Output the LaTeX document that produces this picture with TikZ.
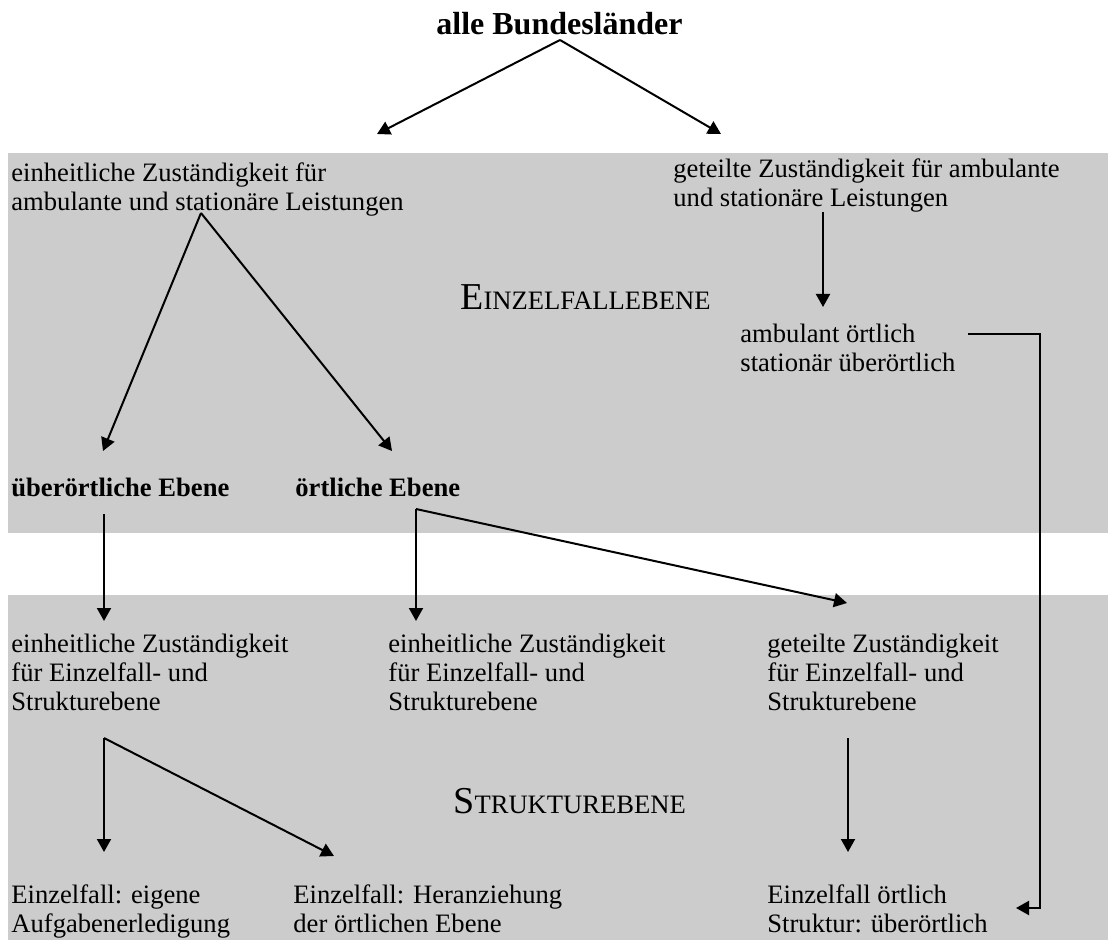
\documentclass[tikz,border=0pt]{standalone}
\usepackage{fontspec}
\setmainfont{Liberation Serif}
\usetikzlibrary{arrows.meta,positioning}
\definecolor{bandgray}{HTML}{CCCCCC}

\begin{document}
\begin{tikzpicture}[
   x=0.5pt, y=-0.5pt,
   band/.style={
     fill=bandgray,
     draw=none,
    },
   txt/.style={
     anchor=base west,
     inner sep=0pt,
     align=left,
     font=\fontsize{13.3}{14.5}\selectfont,
    },
   hd/.style={
     txt,
     font=\fontsize{13.3}{14.5}\selectfont\bfseries,
    },
   sec/.style={
     anchor=base west,
     inner sep=0pt,
     font=\fontsize{19}{21}\selectfont,
    },
   arr/.style={
     line width=1pt,
     -{Triangle[length=6.5pt,width=7pt]},
    },
  ]
\useasboundingbox (0,0) rectangle (1108,940);
\fill[white] (0,0) rectangle (1108,940);
\fill[band] (8,153) rectangle (1108,533);
\fill[band] (8,595) rectangle (1108,940);

% levels (base = last line)
\node[anchor=base, inner sep=0pt, font=\fontsize{16}{18}\selectfont\bfseries] (alle) at (559.5,35) {alle Bundesländer};
\node[txt] (einhA) at (11,211) {einheitliche Zuständigkeit für\\ambulante und stationäre Leistungen};
\node[txt] (geteiltA) at (673,207) {geteilte Zuständigkeit für ambulante\\und stationäre Leistungen};
\node[sec] (einzel) at (460,310) {E{\fontsize{13.3}{14.5}\selectfont INZELFALLEBENE}};
\node[txt] (ambul) at (740,372) {ambulant örtlich\\stationär überörtlich};
\node[hd] (ueberoe) at (11,497) {überörtliche Ebene};
\node[hd] (oertl) at (295,497) {örtliche Ebene};
\node[txt] (einhB) at (11,710) {einheitliche Zuständigkeit\\für Einzelfall- und\\Strukturebene};
\node[txt] (einhC) at (388,710) {einheitliche Zuständigkeit\\für Einzelfall- und\\Strukturebene};
\node[txt] (geteiltB) at (767,710) {geteilte Zuständigkeit\\für Einzelfall- und\\Strukturebene};
\node[sec] (struktur) at (453,813) {S{\fontsize{13.3}{14.5}\selectfont TRUKTUREBENE}};
\node[txt] (eigen) at (11,932) {Einzelfall: eigene\\Aufgabenerledigung};
\node[txt] (heran) at (293,932) {Einzelfall: Heranziehung\\der örtlichen Ebene};
\node[txt] (oertlStr) at (767,932) {Einzelfall örtlich\\Struktur: überörtlich};

% connector points
\coordinate (alleS) at (560,40);
\coordinate (einhAS) at (201,213);
\coordinate (geteiltAS) at (823,212);
\coordinate (ambulE) at (968,334);
\coordinate (ueberoeS) at (104,514);
\coordinate (oertlS) at (416,509);
\coordinate (einhBS) at (104,738);
\coordinate (geteiltBS) at (848,738);

\draw[arr] (alleS) -- (377,134);
\draw[arr] (alleS) -- (721,134);
\draw[arr] (einhAS) -- (103,451);
\draw[arr] (einhAS) -- (392,451);
\draw[arr] (geteiltAS) -- (823,307);
\draw[arr] (ambulE) -- (1040,334) -- (1040,908) -- (1016,908);
\draw[arr] (ueberoeS) -- (104,621);
\draw[arr] (oertlS) -- (416,621);
\draw[arr] (oertlS) -- (847,603);
\draw[arr] (einhBS) -- (104,852);
\draw[arr] (einhBS) -- (334,856);
\draw[arr] (geteiltBS) -- (848,852);
\end{tikzpicture}
\end{document}
